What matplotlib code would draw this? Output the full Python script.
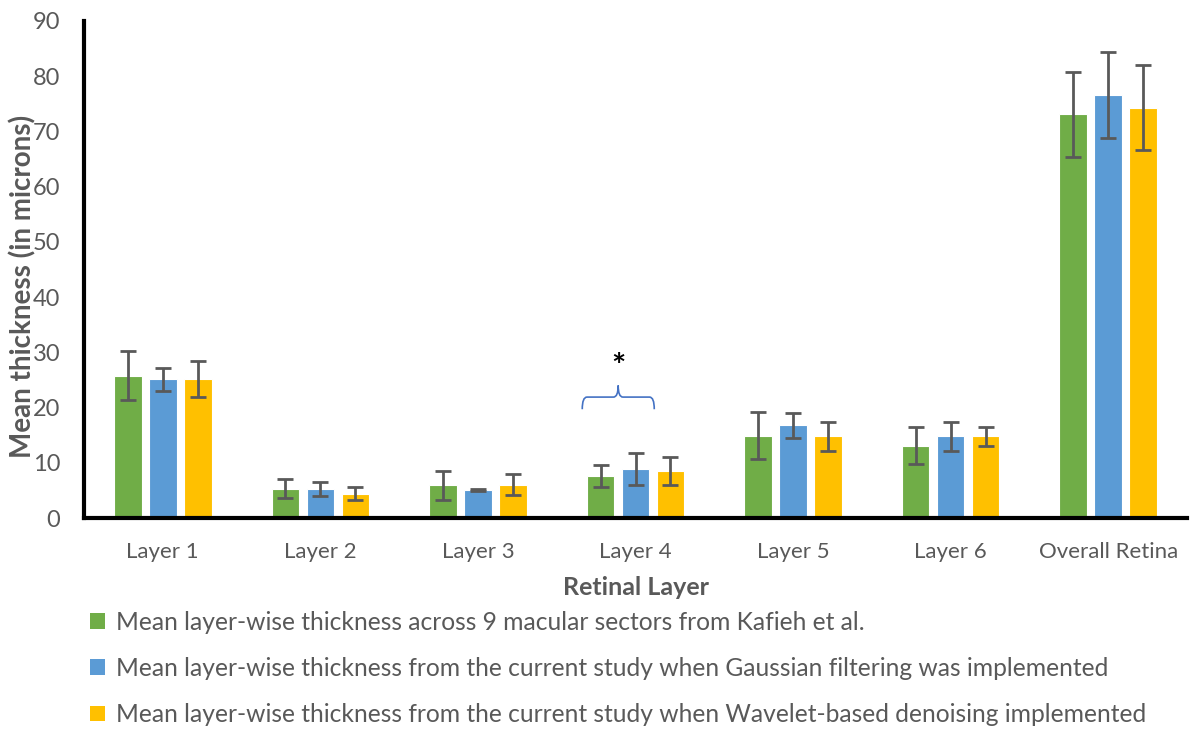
import matplotlib
matplotlib.use("Agg")
import matplotlib.pyplot as plt
import numpy as np
from matplotlib.path import Path
from matplotlib.patches import PathPatch, Patch

plt.rcParams['font.family'] = ['Lato', 'DejaVu Sans']

categories = ["Layer 1", "Layer 2", "Layer 3", "Layer 4", "Layer 5", "Layer 6", "Overall Retina"]
series_names = [
    "Mean layer-wise thickness across 9 macular sectors from Kafieh et al.",
    "Mean layer-wise thickness from the current study when Gaussian filtering was implemented",
    "Mean layer-wise thickness from the current study when Wavelet-based denoising implemented",
]
kafieh = [25.8, 5.3, 5.9, 7.6, 14.9, 13.1, 73.1]
kafieh_err = [4.5, 1.75, 2.6, 1.95, 4.3, 3.3, 7.75]
gaussian = [25.1, 5.2, 5.1, 8.9, 16.8, 14.8, 76.6]
gaussian_err = [2.1, 1.25, 0.2, 2.9, 2.3, 2.6, 7.7]
wavelet = [25.2, 4.4, 6.0, 8.5, 14.8, 14.8, 74.3]
wavelet_err = [3.2, 1.2, 1.9, 2.5, 2.6, 1.75, 7.7]
y_ticks = [0, 10, 20, 30, 40, 50, 60, 70, 80, 90]

colors = ["#70AD47", "#5B9BD5", "#FFC000"]
text_gray = "#595959"

fig = plt.figure(figsize=(11.93, 7.29), dpi=100)
ax = fig.add_axes([0.0704, 0.2894, 0.9246, 0.6818])

x = np.arange(len(categories))
offset = 0.222
width = 0.175
for i, (vals, errs) in enumerate([(kafieh, kafieh_err), (gaussian, gaussian_err), (wavelet, wavelet_err)]):
    ax.bar(x + (i - 1) * offset, vals, width, color=colors[i], edgecolor="white", linewidth=0.8,
           label=series_names[i], zorder=2)
    ax.errorbar(x + (i - 1) * offset, vals, yerr=errs, fmt="none", ecolor="#595959",
                elinewidth=2, capsize=6, capthick=2, zorder=3)

ax.set_xlim(-0.5, len(categories) - 0.5)
ax.set_ylim(0, 90)
ax.set_yticks(y_ticks)
ax.set_xticks(x)
ax.set_xticklabels(categories)
ax.tick_params(axis="x", length=0, labelsize=16, colors=text_gray, pad=17)
ax.tick_params(axis="y", length=0, labelsize=17, colors=text_gray, pad=17)
for s in ["top", "right"]:
    ax.spines[s].set_visible(False)
for s in ["left", "bottom"]:
    ax.spines[s].set_linewidth(3)
    ax.spines[s].set_color("black")

ax.set_xlabel("Retinal Layer", fontsize=18, fontweight="bold", color=text_gray, labelpad=10)
fig.text(0.019, 0.607, "Mean thickness (in microns)", rotation=90, fontsize=20, fontweight="bold",
         color=text_gray, ha="center", va="center")

# significance brace over Layer 4
bx0, bx1, bxc = 2.662, 3.119, 2.89
by_end, by_mid, by_tip = 19.7, 21.9, 24.0
r = 0.03
verts = [(bx0, by_end), (bx0, by_mid), (bx0 + r, by_mid),
         (bxc - r, by_mid), (bxc, by_mid), (bxc, by_tip),
         (bxc, by_mid), (bxc + r, by_mid),
         (bx1 - r, by_mid), (bx1, by_mid), (bx1, by_end)]
codes = [Path.MOVETO, Path.CURVE3, Path.CURVE3,
         Path.LINETO, Path.CURVE3, Path.CURVE3,
         Path.CURVE3, Path.CURVE3,
         Path.LINETO, Path.CURVE3, Path.CURVE3]
ax.add_patch(PathPatch(Path(verts, codes), facecolor="none", edgecolor="#4472C4", linewidth=1.2, zorder=4))
ax.text(bxc, 27.3, "*", fontsize=24, fontweight="bold", ha="center", va="center", color="black")

handles = [Patch(facecolor=c, edgecolor="none") for c in colors]
fig.legend(handles, series_names, loc="upper left", bbox_to_anchor=(0.0754, 0.1625), frameon=False,
           fontsize=17.7, labelcolor=text_gray, handlelength=0.6, handleheight=0.6, handletextpad=0.45,
           labelspacing=0.95, borderaxespad=0, borderpad=0)

fig.savefig("out.png", dpi=100)
